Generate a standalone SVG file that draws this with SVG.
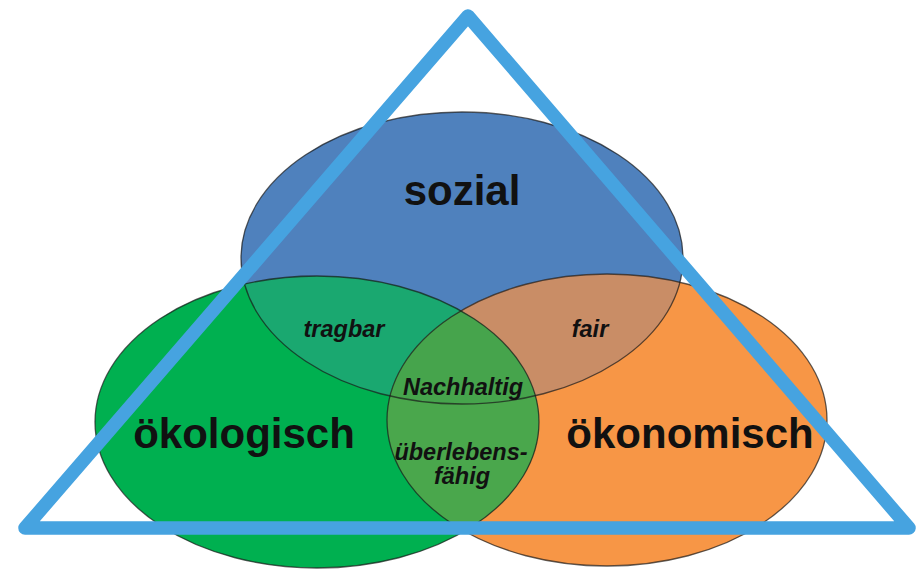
<svg xmlns="http://www.w3.org/2000/svg" width="918" height="573" viewBox="0 0 918 573">
<defs>
<style>
.big{font-family:"Liberation Sans",Arial,sans-serif;font-weight:bold;font-size:42px;fill:#111;text-anchor:middle}
.small{font-family:"Liberation Sans",Arial,sans-serif;font-weight:bold;font-style:italic;font-size:23.5px;fill:#111;text-anchor:middle}
.edge{fill:none;stroke:#1a1a1a;stroke-width:1.3;stroke-opacity:0.7}
</style>
<clipPath id="cBlue"><ellipse cx="462" cy="258" rx="221" ry="146"/></clipPath>
<clipPath id="cGreen"><ellipse cx="317" cy="422" rx="222" ry="146"/></clipPath>
<clipPath id="cOrange"><ellipse cx="607" cy="420" rx="220" ry="146"/></clipPath>
</defs>
<rect width="918" height="573" fill="#ffffff"/>
<g id="sozial">
<ellipse cx="462" cy="258" rx="221" ry="146" fill="#4f81bd"/>
</g>
<g id="oekonomisch">
<ellipse cx="607" cy="420" rx="220" ry="146" fill="#f79646"/>
</g>
<g id="oekologisch">
<ellipse cx="317" cy="422" rx="222" ry="146" fill="#00b050"/>
</g>
<g id="overlaps">
<g clip-path="url(#cBlue)"><ellipse cx="317" cy="422" rx="222" ry="146" fill="#1aa870"/></g>
<g clip-path="url(#cBlue)"><ellipse cx="607" cy="420" rx="220" ry="146" fill="#c98d66"/></g>
<g clip-path="url(#cGreen)"><ellipse cx="607" cy="420" rx="220" ry="146" fill="#4aa74c"/></g>
<g clip-path="url(#cBlue)"><g clip-path="url(#cGreen)"><ellipse cx="607" cy="420" rx="220" ry="146" fill="#46a44c"/></g></g>
</g>
<g id="outlines">
<ellipse class="edge" cx="462" cy="258" rx="221" ry="146"/>
<ellipse class="edge" cx="317" cy="422" rx="222" ry="146"/>
<ellipse class="edge" cx="607" cy="420" rx="220" ry="146"/>
</g>
<g id="labels">
<text class="big" x="462" y="205">sozial</text>
<text class="big" x="244" y="448">ökologisch</text>
<text class="big" x="690" y="448">ökonomisch</text>
<text class="small" x="344" y="337">tragbar</text>
<text class="small" x="590" y="337">fair</text>
<text class="small" x="463" y="395">Nachhaltig</text>
<text class="small" x="461" y="460">überlebens-</text>
<text class="small" x="462" y="484">fähig</text>
</g>
<g id="triangle">
<polygon points="468,16 909,528 25,528" fill="none" stroke="#46a3e0" stroke-width="13.5" stroke-linejoin="round"/>
</g>
</svg>
